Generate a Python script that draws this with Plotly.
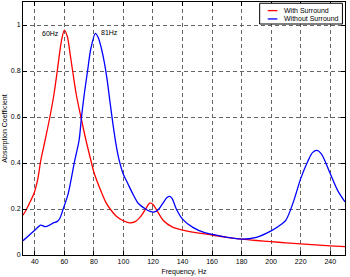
import plotly.graph_objects as go

# Frequencies (Hz) and absorption coefficients
freq_with = [32, 34.5, 36, 39.4, 42, 44, 47, 50.2, 53, 55.2, 58, 60, 62, 64, 65.6,
             68, 71.2, 74.6, 78.4, 80, 84, 88, 91, 95, 99.6, 104, 108, 112, 115,
             117.8, 120, 123, 127, 133, 140, 150, 160, 170, 180, 190, 200, 210,
             220, 230, 240, 250]
abs_with = [0.173, 0.2, 0.22, 0.267, 0.33, 0.41, 0.5, 0.6, 0.7, 0.8, 0.93, 0.978, 0.95,
            0.87, 0.8, 0.7, 0.6, 0.5, 0.4, 0.36, 0.29, 0.23, 0.2, 0.17, 0.15, 0.14,
            0.145, 0.17, 0.2, 0.226, 0.22, 0.19, 0.15, 0.122, 0.108, 0.096, 0.087,
            0.077, 0.069, 0.063, 0.058, 0.053, 0.048, 0.044, 0.04, 0.036]

freq_without = [32, 36, 40, 44, 47, 50, 52.5, 55, 57, 59.2, 62.6, 67, 70, 71.6, 73.5,
                75.7, 78, 81, 83, 85, 87, 89, 91, 93, 95, 97, 100, 103, 106, 110,
                115, 118, 121, 124, 127, 129.5, 131.3, 133, 135.8, 140, 147, 155,
                160, 170, 180, 190, 200, 205, 210, 215, 220, 225, 228, 231, 234,
                237, 240, 245, 250]
abs_without = [0.062, 0.085, 0.108, 0.13, 0.123, 0.13, 0.14, 0.145, 0.16, 0.2, 0.267,
               0.41, 0.5, 0.6, 0.7, 0.8, 0.9, 0.964, 0.945, 0.9, 0.84, 0.76, 0.66, 0.565,
               0.48, 0.415, 0.35, 0.31, 0.27, 0.225, 0.2, 0.19, 0.187, 0.2, 0.228, 0.25,
               0.255, 0.245, 0.2, 0.156, 0.12, 0.097, 0.09, 0.077, 0.069, 0.077, 0.105,
               0.125, 0.152, 0.23, 0.332, 0.41, 0.445, 0.455, 0.44, 0.4, 0.354, 0.281,
               0.231]

series_names = ["With Surround", "Without Surround"]
series_colors = ["#ff0000", "#0000ff"]

x_ticks = [40, 60, 80, 100, 120, 140, 160, 180, 200, 220, 240]
y_ticks = [0, 0.2, 0.4, 0.6, 0.8, 1]
y_tick_labels = ["0", "0.2", "0.4", "0.6", "0.8", "1"]

peak_labels = ["60Hz", "81Hz"]
peak_label_x = [43.5, 83.4]
peak_label_y = [0.962, 0.968]

font = "Liberation Sans, Arial, sans-serif"

fig = go.Figure()
for fx, fy, name, col in zip([freq_with, freq_without], [abs_with, abs_without],
                             series_names, series_colors):
    fig.add_trace(go.Scatter(x=fx, y=fy, mode="lines", name=name, showlegend=False,
                             line=dict(color=col, width=1.3, shape="spline", smoothing=0.8)))

for t, x, y in zip(peak_labels, peak_label_x, peak_label_y):
    fig.add_annotation(x=x, y=y, text=t, showarrow=False, xanchor="left", yanchor="middle",
                       font=dict(size=7, color="black", family=font))

# Compact legend box (matplotlib-style) drawn in paper coordinates
fig.add_shape(type="rect", xref="paper", yref="paper", x0=0.735, x1=0.992, y0=0.913, y1=0.995,
              line=dict(color="black", width=1), fillcolor="white", layer="above")
leg_y = [0.966, 0.933]
for name, col, ly in zip(series_names, series_colors, leg_y):
    fig.add_shape(type="line", xref="paper", yref="paper", x0=0.76, x1=0.79, y0=ly, y1=ly,
                  line=dict(color=col, width=1.3), layer="above")
    fig.add_annotation(xref="paper", yref="paper", x=0.803, y=ly, text=name, showarrow=False,
                       xanchor="left", yanchor="middle",
                       font=dict(size=7, color="black", family=font))

axis_common = dict(showline=True, linecolor="black", linewidth=1, mirror="ticks",
                   ticks="inside", ticklen=4, tickcolor="black",
                   showgrid=True, gridcolor="#666666", griddash="4px,3px", gridwidth=0.8,
                   zeroline=False, tickfont=dict(size=7, color="black", family=font))

fig.update_xaxes(range=[32, 250], tickvals=x_ticks,
                 title=dict(text="Frequency, Hz", font=dict(size=7, color="black", family=font),
                            standoff=4),
                 **axis_common)
fig.update_yaxes(range=[0, 1.1], tickvals=y_ticks, ticktext=y_tick_labels,
                 title=dict(text="Absorption Coefficient",
                            font=dict(size=7, color="black", family=font), standoff=2),
                 **axis_common)

fig.update_layout(
    width=350, height=277,
    margin=dict(l=23, r=5, t=2, b=22),
    plot_bgcolor="white", paper_bgcolor="white",
    showlegend=False,
)

fig.write_html("out.html")
